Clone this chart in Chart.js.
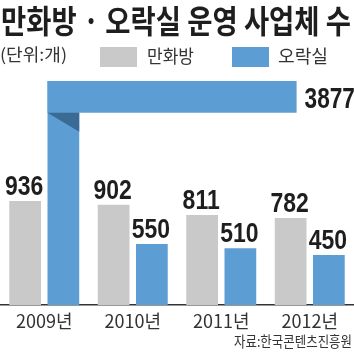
<!DOCTYPE html>
<html>
<head>
<meta charset="utf-8">
<script src="https://cdn.jsdelivr.net/npm/chart.js@4"></script>
<style>
  body { margin: 0; background: #fff; }
  canvas { display: block; }
</style>
</head>
<body>
<canvas id="chart" width="354" height="354"></canvas>
<script>
// data
let years = ['2009년', '2010년', '2011년', '2012년'];
let comicValues = [936, 902, 811, 782];
let arcadeValues = [3877, 550, 510, 450];
let seriesNames = ['만화방', '오락실'];
let yMax = 2016; // 2009 오락실 bar is cut here and folded to the right

let gray = '#c9c9ca';
let blue = '#5c9dd3';
let darkBlue = '#3b6a94';
let ink = '#1e1e1e';
let kr = '"Noto Sans CJK KR", "Noto Sans", sans-serif';
let num = '"Liberation Sans", Arial, sans-serif';

// draws text squeezed horizontally (to width w, or by factor sx)
function drawText(ctx, s, x, y, font, color, align, w, sx) {
    ctx.save();
    ctx.font = font;
    ctx.fillStyle = color;
    ctx.textBaseline = 'alphabetic';
    ctx.textAlign = align;
    let scale = sx || (w ? w / ctx.measureText(s).width : 1);
    ctx.translate(x, y);
    ctx.scale(scale, 1);
    ctx.fillText(s, 0, 0);
    ctx.restore();
}

let decorations = {
    id: 'decorations',
    afterDatasetsDraw(chart) {
        let ctx = chart.ctx;
        let area = chart.chartArea;
        let yScale = chart.scales.y;
        let pxPerUnit = (yScale.getPixelForValue(0) - yScale.getPixelForValue(1000)) / 1000;

        // folded 2009 bar
        let bar = chart.getDatasetMeta(1).data[0];
        let w = bar.width;
        let left = bar.x - w / 2;
        let top = area.top;
        let bandMid = top + w / 2;
        let total = arcadeValues[0] * pxPerUnit;
        let rest = total - (bar.base - bandMid);
        let right = bar.x + rest + w / 3;
        ctx.save();
        ctx.fillStyle = blue;
        ctx.fillRect(left, top, right - left, w);
        ctx.fillStyle = darkBlue;
        ctx.beginPath();
        ctx.moveTo(left, top + w);
        ctx.lineTo(left + w, top + w);
        ctx.lineTo(left + w, top + w + w * 0.6);
        ctx.closePath();
        ctx.fill();
        ctx.restore();
        drawText(ctx, String(arcadeValues[0]), right + 8, bandMid + 11, 'bold 29px ' + num, ink, 'left', 0, 0.78);

        // value labels
        chart.data.datasets.forEach((ds, i) => {
            chart.getDatasetMeta(i).data.forEach((el, j) => {
                if (i === 1 && j === 0) return;
                drawText(ctx, String(ds.data[j]), el.x - 1, el.y - 6, 'bold 28px ' + num, ink, 'center', 0, 0.82);
            });
        });
    },
    afterDraw(chart) {
        let ctx = chart.ctx;
        drawText(ctx, '만화방 · 오락실 운영 사업체 수', 1, 33, 'bold 32px ' + kr, ink, 'left', 350);
        drawText(ctx, '(단위:개)', 0, 61, '17px ' + kr, '#333', 'left', 67);

        // legend
        let boxes = [[100, 147, 47], [232, 278, 50]];
        chart.data.datasets.forEach((ds, i) => {
            let b = boxes[i];
            ctx.fillStyle = ds.backgroundColor;
            ctx.fillRect(b[0], 47, 37, 20);
            drawText(ctx, ds.label, b[1], 63, '18px ' + kr, '#333', 'left', b[2]);
        });

        drawText(ctx, '자료:한국콘텐츠진흥원', 352, 347, '15px ' + kr, '#333', 'right', 118);
    }
};

new Chart(document.getElementById('chart'), {
    type: 'bar',
    data: {
        labels: years,
        datasets: [
            { label: seriesNames[0], data: comicValues, backgroundColor: gray },
            { label: seriesNames[1], data: arcadeValues, backgroundColor: blue, clip: 0 }
        ]
    },
    options: {
        responsive: false,
        devicePixelRatio: 1,
        animation: false,
        categoryPercentage: 0.864,
        barPercentage: 0.83,
        layout: { padding: { top: 81, left: 0, right: 0, bottom: 0 } },
        plugins: {
            legend: { display: false },
            tooltip: { enabled: false }
        },
        scales: {
            x: {
                grid: { display: false, drawTicks: false },
                border: { display: true, color: '#333', width: 1.5 },
                ticks: { color: '#333', font: { family: kr, size: 18 }, padding: 5 },
                afterFit(scale) { scale.height = 49; }
            },
            y: {
                display: false,
                min: 0,
                max: yMax
            }
        }
    },
    plugins: [decorations]
});
</script>
</body>
</html>
